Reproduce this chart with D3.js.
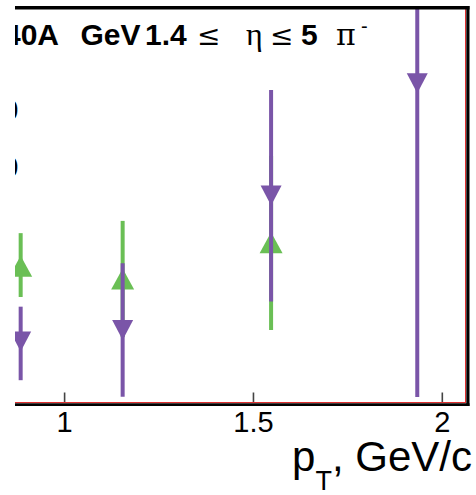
<!DOCTYPE html>
<html>
<head>
<meta charset="utf-8">
<script src="https://cdn.jsdelivr.net/npm/d3@7"></script>
<style>
  html, body { margin: 0; padding: 0; background: #fff; }
  svg { display: block; }
</style>
</head>
<body>
<script>
// ---- data ----
const xTicks = [1, 1.5, 2];
const xTickLabels = ["1", "1.5", "2"];
const yTicks = [0.5, 0.4];           // only the clipped remnants of these labels are visible
const yTickLabels = ["0.50", "0.40"];

// purple, downward triangles
const purpleX     = [0.885, 1.155, 1.548, 1.935];
const purpleY     = [0.094, 0.114, 0.350, 0.547];
const purpleErrHi = [0.061, 0.117, 0.185, 0.70];
const purpleErrLo = [0.068, 0.117, 0.186, 0.70];

// green, upward triangles
const greenX     = [0.885, 1.155, 1.548];
const greenY     = [0.226, 0.2035, 0.267];
const greenErrHi = [0.058, 0.102, 0.153];
const greenErrLo = [0.054, 0.102, 0.153];

const W = 476, H = 495;
const svg = d3.select("body").append("svg").attr("width", W).attr("height", H);
svg.append("rect").attr("width", W).attr("height", H).attr("fill", "#fff");

const x = d3.scaleLinear().domain([0.87, 2.068]).range([15, 467.5]);
const y = d3.scaleLinear().domain([-0.014, 0.679]).range([403, 8]);

const defs = svg.append("defs");
defs.append("clipPath").attr("id", "pageclip").append("rect")
  .attr("x", 15).attr("y", 0).attr("width", W - 15).attr("height", H);
defs.append("clipPath").attr("id", "dataclip").append("rect")
  .attr("x", 15).attr("y", 9).attr("width", 466 - 15).attr("height", 397 - 9);

const page = svg.append("g").attr("clip-path", "url(#pageclip)");

// y tick label remnants
page.append("g").selectAll("text").data(yTicks).join("text")
  .attr("x", 18.5).attr("y", d => y(d)).attr("dy", "0.35em")
  .attr("text-anchor", "end")
  .attr("font-family", "Liberation Sans, Arial, sans-serif")
  .attr("font-size", 29).attr("fill", "#000")
  .text((d, i) => yTickLabels[i]);

// data
const data = page.append("g").attr("clip-path", "url(#dataclip)");
function drawSeries(xs, ys, lo, hi, color, up) {
  const g = data.append("g");
  g.selectAll("line").data(xs).join("line")
    .attr("x1", d => x(d)).attr("x2", d => x(d))
    .attr("y1", (d, i) => y(ys[i] + hi[i]))
    .attr("y2", (d, i) => y(ys[i] - lo[i]))
    .attr("stroke", color).attr("stroke-width", 4);
  const hw = up ? 11.5 : 10.5, hh = up ? 10.5 : 10;
  g.selectAll("path").data(xs).join("path")
    .attr("transform", (d, i) => `translate(${x(d)},${y(ys[i])})`)
    .attr("d", up
      ? `M0,${-hh}L${hw},${hh}L${-hw},${hh}Z`
      : `M0,${hh}L${hw},${-hh}L${-hw},${-hh}Z`)
    .attr("fill", color);
}
drawSeries(greenX, greenY, greenErrLo, greenErrHi, "#6abf55", true);
drawSeries(purpleX, purpleY, purpleErrLo, purpleErrHi, "#7a55a8", false);

// x axis ticks and labels
const axis = d3.axisBottom(x).tickValues(xTicks)
  .tickFormat((d, i) => xTickLabels[i]).tickSize(-10).tickPadding(9);
const ax = page.append("g").attr("transform", "translate(0,402.5)").call(axis);
ax.select(".domain").remove();
ax.selectAll(".tick line").attr("stroke", "#444").attr("stroke-width", 1.6);
ax.selectAll(".tick text").attr("font-family", "Liberation Sans, Arial, sans-serif")
  .attr("font-size", 29).attr("fill", "#000");

// frame
page.append("line").attr("x1", 15).attr("x2", 466).attr("y1", 402.5).attr("y2", 402.5)
  .attr("stroke", "#e03030").attr("stroke-width", 1);
page.append("line").attr("x1", 465.5).attr("x2", 465.5).attr("y1", 9).attr("y2", 403)
  .attr("stroke", "#e03030").attr("stroke-width", 1);
page.append("line").attr("x1", 15).attr("x2", 469.5).attr("y1", 7.8).attr("y2", 7.8)
  .attr("stroke", "#000").attr("stroke-width", 3.4);
page.append("line").attr("x1", 467.9).attr("x2", 467.9).attr("y1", 6).attr("y2", 406)
  .attr("stroke", "#000").attr("stroke-width", 3.2);
page.append("line").attr("x1", 15).attr("x2", 469.5).attr("y1", 404.6).attr("y2", 404.6)
  .attr("stroke", "#000").attr("stroke-width", 2.8);

// title
const sans = "Liberation Sans, Arial, sans-serif";
const serif = "Liberation Serif, Times New Roman, serif";
const dserif = "DejaVu Serif, serif";
const tb = 45;
function bold(xp, s) {
  page.append("text").attr("x", xp).attr("y", tb).attr("font-family", sans)
    .attr("font-weight", "bold").attr("font-size", 30).text(s);
}
function sym(xp, s, fs, fam) {
  page.append("text").attr("x", xp).attr("y", tb).attr("font-family", fam)
    .attr("font-size", fs).text(s);
}
bold(4, "40A");
bold(80.5, "GeV");
bold(145, "1.4");
sym(197, "≤", 28, dserif);
sym(246, "η", 32, serif);
sym(270, "≤", 28, dserif);
bold(301, "5");
sym(336, "π", 30, dserif);
page.append("text").attr("x", 361).attr("y", 33).attr("font-family", sans)
  .attr("font-size", 20).text("-");

// x axis title
const xt = page.append("text").attr("x", 472).attr("y", 471).attr("text-anchor", "end")
  .attr("font-family", sans).attr("font-size", 42);
xt.append("tspan").text("p");
xt.append("tspan").attr("font-size", 27).attr("dy", 19).text("T");
xt.append("tspan").attr("dy", -19).text(", GeV/c");
</script>
</body>
</html>
